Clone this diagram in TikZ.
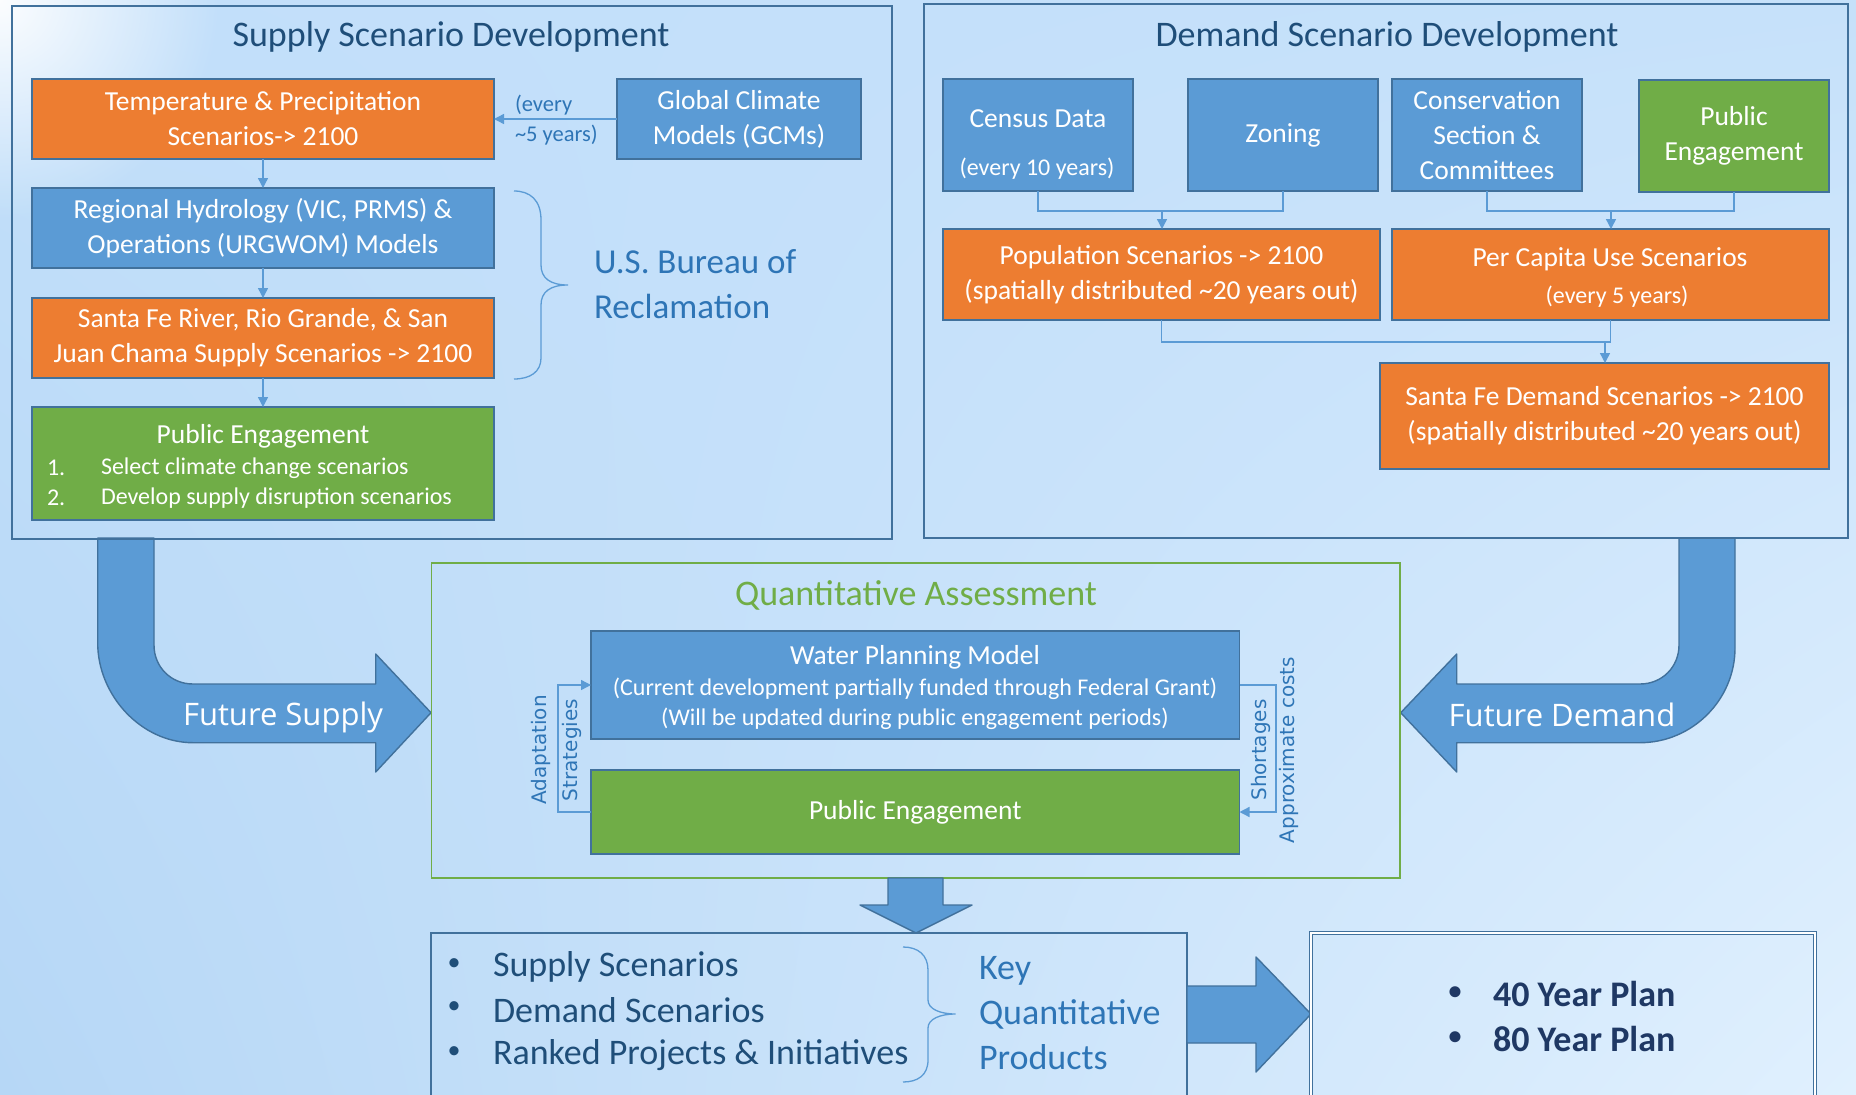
\documentclass[tikz,border=0pt]{standalone}
\usepackage{fontspec}
\setmainfont{Carlito}
\newfontfamily\osans{Open Sans}
\newfontfamily\wides{DejaVu Sans}
\usetikzlibrary{arrows.meta,calc,fadings,shadings}
\tikzfading[name=glowfade, inner color=transparent!0, outer color=transparent!100]
\definecolor{accb}{HTML}{5B9BD5}
\definecolor{acco}{HTML}{ED7D31}
\definecolor{accg}{HTML}{70AD47}
\definecolor{bdr}{HTML}{41719C}
\definecolor{navy}{HTML}{1F4E79}
\definecolor{midb}{HTML}{2E75B6}
\definecolor{plann}{HTML}{1F3864}
\definecolor{bgUL}{HTML}{C2DFFA}
\definecolor{bgUR}{HTML}{C6E1FA}
\definecolor{bgLL}{HTML}{B6D7F6}
\definecolor{bgLR}{HTML}{E0F0FE}
\tikzset{
  every node/.style={inner sep=0pt, outer sep=0pt},
  boxbase/.style={draw=bdr, line width=1.6pt, text=white, align=center, font=\fontsize{27.5}{35}\selectfont},
  bbox/.style={boxbase, fill=accb},
  obox/.style={boxbase, fill=acco},
  gbox/.style={boxbase, fill=accg},
  wtxt/.style={text=white, font=\fontsize{27.5}{35}\selectfont, align=center},
  wsmall/.style={text=white, font=\fontsize{24}{30}\selectfont, align=center},
  ptitle/.style={text=navy, font=\fontsize{36}{44}\selectfont},
  conn/.style={draw=accb, line width=1.4pt},
  arr/.style={conn, -{Triangle[length=10pt,width=10pt]}},
  panel/.style={draw=bdr, line width=1.6pt},
  bigarrow/.style={fill=accb, draw=bdr, line width=1.4pt, line join=round},
  bracel/.style={draw=accb, line width=1.3pt},
  listtxt/.style={text=navy, font=\fontsize{36}{44}\selectfont, anchor=west},
  bullettxt/.style={text=navy, font=\fontsize{26}{30}\selectfont},
  plantxt/.style={text=plann, font=\bfseries\fontsize{36}{44}\selectfont, anchor=west},
  planbullet/.style={text=plann, font=\bfseries\fontsize{26}{30}\selectfont},
}
\begin{document}
\begin{tikzpicture}[x=1pt,y=-1pt]
\useasboundingbox (0,0) rectangle (1856,1095);
\clip (0,0) rectangle (1856,1095);
\shade[upper left=bgUL, upper right=bgUR, lower left=bgLL, lower right=bgLR] (0,0) rectangle (1856,1095);
\fill[white, path fading=glowfade, fill opacity=0.95] (0,0) circle (220);

% big arrows
\draw[bigarrow] (97.7,538) -- (97.7,643) .. controls (97.7,695) and (141,742.7) .. (193,742.7) -- (375.7,742.7) -- (375.7,772) -- (431,712.7) -- (375.7,654) -- (375.7,684) -- (193,684) .. controls (171,684) and (154,667) .. (154,645) -- (154,538) -- cycle;
\draw[bigarrow] (1679,538) -- (1679,645) .. controls (1679,667) and (1662,684) .. (1640,684) -- (1456.7,684) -- (1456.7,654) -- (1400.7,712.7) -- (1456.7,772) -- (1456.7,742.7) -- (1640,742.7) .. controls (1692,742.7) and (1735,700) .. (1735,648) -- (1735,538) -- cycle;
\node[font=\osans\fontsize{31}{36}\selectfont, text=white] (fsT) at (283,717) {Future Supply};
\node[font=\osans\fontsize{31}{36}\selectfont, text=white] (fdT) at (1562,715) {Future Demand};

% panels
\node[panel, minimum width=880, minimum height=533] (supply) at (452,272.5) {};
\node[panel, minimum width=924, minimum height=534] (demand) at (1386,271) {};
\node[ptitle] (supplyT) at (451,37) {Supply Scenario Development};
\node[ptitle] (demandT) at (1387,37) {Demand Scenario Development};

% supply boxes
\node[obox, minimum width=462, minimum height=80] (temp) at (263,119) {Temperature \& Precipitation\\Scenarios-> 2100};
\node[bbox, minimum width=244, minimum height=80] (gcm) at (739,119) {Global Climate\\Models (GCMs)};
\node[bbox, minimum width=462, minimum height=80] (hydro) at (263,228) {Regional Hydrology (VIC, PRMS) \&\\Operations (URGWOM) Models};
\node[obox, minimum width=462, minimum height=80] (sfr) at (263,338) {Santa Fe River, Rio Grande, \& San\\Juan Chama Supply Scenarios -> 2100};
\node[gbox, minimum width=462, minimum height=113] (pe1) at (263,463.5) {};
\node[wtxt] (pe1T) at (263,436) {Public Engagement};
\node[wsmall, anchor=west] (pe1n1) at (47,468) {1.};
\node[wsmall, anchor=west] (pe1i1) at (101,468) {Select climate change scenarios};
\node[wsmall, anchor=west] (pe1n2) at (47,498) {2.};
\node[wsmall, anchor=west] (pe1i2) at (101,498) {Develop supply disruption scenarios};
\node[text=midb, font=\fontsize{22.5}{30}\selectfont, align=left, anchor=west] (every5) at (515,120) {(every\\\textasciitilde5 years)};
\node[text=midb, font=\fontsize{35}{45}\selectfont, align=left, anchor=west] (usbr) at (594,284) {U.S. Bureau of\\Reclamation};
\draw[arr] (gcm.west) -- (temp.east);
\draw[arr] (temp.south) -- (hydro.north);
\draw[arr] (hydro.south) -- (sfr.north);
\draw[arr] (sfr.south) -- (pe1.north);
\draw[bracel] (514,191) .. controls (530,191) and (541,200) .. (541,220) -- (541,265) .. controls (541,278) and (550,285) .. (568,285) .. controls (550,285) and (541,292) .. (541,305) -- (541,358) .. controls (541,372) and (530,379) .. (514,379);

% demand boxes
\node[bbox, minimum width=190, minimum height=112] (census) at (1038,135) {};
\node[wtxt] (censusT) at (1038,119) {Census Data};
\node[wsmall] (censusS) at (1037,169) {(every 10 years)};
\node[bbox, minimum width=190, minimum height=112] (zoning) at (1283,135) {Zoning};
\node[bbox, minimum width=190, minimum height=112] (cons) at (1487,135) {Conservation\\Section \&\\Committees};
\node[gbox, minimum width=190, minimum height=112] (pe2) at (1734,136) {Public\\Engagement};
\node[obox, minimum width=437, minimum height=91] (pop) at (1161.5,274.5) {Population Scenarios -> 2100\\(spatially distributed \textasciitilde20 years out)};
\node[obox, minimum width=437, minimum height=91] (percap) at (1610.5,274.5) {};
\node[wtxt] (percapT) at (1610,259.5) {Per Capita Use Scenarios};
\node[wsmall] (percapS) at (1617,297) {(every 5 years)};
\node[obox, minimum width=449, minimum height=106] (sfd) at (1604.5,416) {Santa Fe Demand Scenarios -> 2100\\(spatially distributed \textasciitilde20 years out)};
\coordinate (m1) at (1162,211);
\coordinate (m2) at (1611,211);
\coordinate (m3) at (1605,342);
\draw[conn] (census.south) |- (m1) -| (zoning.south);
\draw[arr] (m1) -- (m1 |- pop.north);
\draw[conn] (cons.south) |- (m2) -| (pe2.south);
\draw[arr] (m2) -- (m2 |- percap.north);
\draw[conn] (pop.south) |- (m3) -| (percap.south);
\draw[arr] (m3) -- (m3 |- sfd.north);

% quantitative assessment
\node[draw=accg, line width=1.6pt, minimum width=968.5, minimum height=315] (qa) at (915.75,720.5) {};
\node[text=accg, font=\fontsize{36}{44}\selectfont] (qaT) at (916,595) {Quantitative Assessment};
\node[bbox, minimum width=648.5, minimum height=108] (wpm) at (915.25,685) {};
\node[wtxt] (wpmT) at (915,657) {Water Planning Model};
\node[wsmall] (wpm1) at (915,688.5) {(Current development partially funded through Federal Grant)};
\node[wsmall] (wpm2) at (915,718.5) {(Will be updated during public engagement periods)};
\node[gbox, minimum width=648.5, minimum height=84] (pe3) at (915.25,812) {Public Engagement};
\draw[arr] (pe3.west) -| ($(wpm.west)+(-33,0)$) -- (wpm.west);
\draw[arr] (wpm.east) -| ($(pe3.east)+(36.5,0)$) -- (pe3.east);
\node[rotate=90, font=\wides\fontsize{20}{31}\selectfont, text=midb, align=center] (adT) at (556.5,750) {Adaptation\\Strategies};
\node[rotate=90, font=\wides\fontsize{20}{28}\selectfont, text=midb, align=center] (shT) at (1274.5,750) {Shortages\\Approximate costs};

% bottom
\draw[bigarrow] (888,878) -- (888,905) -- (860,905) -- (916,933) -- (972,905) -- (943,905) -- (943,878) -- cycle;
\node[panel, minimum width=756, minimum height=180, anchor=north west] (prod) at (431,933) {};
\draw[bigarrow] (1187,986) -- (1256,986) -- (1256,957) -- (1311,1014) -- (1256,1072) -- (1256,1043) -- (1187,1043) -- cycle;
\node[draw=bdr, line width=0.8pt, double=white, double distance=2pt, minimum width=504, minimum height=180, anchor=north west] (plan) at (1311,933) {};
\node[bullettxt] (b1) at (454,965) {•};
\node[listtxt] (l1) at (493,967) {Supply Scenarios};
\node[bullettxt] (b2) at (454,1008) {•};
\node[listtxt] (l2) at (493,1010) {Demand Scenarios};
\node[bullettxt] (b3) at (454,1053) {•};
\node[listtxt] (l3) at (493,1055) {Ranked Projects \& Initiatives};
\draw[bracel] (903,947) .. controls (918,947) and (928,955) .. (928,970) -- (928,1000) .. controls (928,1009) and (940,1014) .. (955.7,1014) .. controls (940,1014) and (928,1019) .. (928,1028) -- (928,1060) .. controls (928,1075) and (918,1082) .. (903,1082);
\node[text=midb, font=\fontsize{36}{45}\selectfont, align=left, anchor=west] (kqp) at (979,1013) {Key\\Quantitative\\Products};
\node[planbullet] (pb1) at (1455,993) {•};
\node[plantxt] (p1) at (1493,994) {40 Year Plan};
\node[planbullet] (pb2) at (1455,1038) {•};
\node[plantxt] (p2) at (1493,1039) {80 Year Plan};
\end{tikzpicture}
\end{document}
